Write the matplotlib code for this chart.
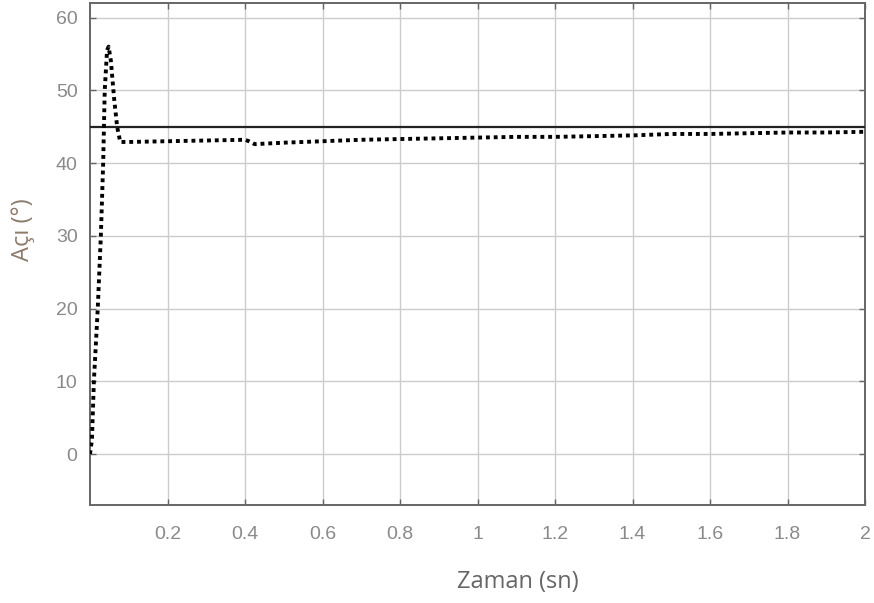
import numpy as np
import matplotlib
matplotlib.use('Agg')
import matplotlib.pyplot as plt

# Zaman (sn) ve açı (derece) değerleri
zaman = [0.0, 0.005, 0.01, 0.02, 0.028, 0.034, 0.038, 0.044, 0.048, 0.054,
         0.062, 0.07, 0.078, 0.1, 0.2, 0.3, 0.4, 0.41, 0.425, 0.5, 0.6,
         0.7, 0.8, 0.9, 1.0, 1.1, 1.2, 1.3, 1.4, 1.5, 1.6, 1.7, 1.8,
         1.9, 2.0]
aci = [0.0, 2.0, 10.0, 20.0, 30.0, 40.0, 50.0, 55.5, 56.0, 54.0,
       49.0, 45.0, 42.9, 42.9, 43.0, 43.1, 43.2, 43.0, 42.6, 42.8, 43.0,
       43.2, 43.3, 43.4, 43.5, 43.6, 43.6, 43.7, 43.8, 44.0, 44.0, 44.1, 44.2,
       44.2, 44.3]
referans = 45

x_ticks = [0.2, 0.4, 0.6, 0.8, 1, 1.2, 1.4, 1.6, 1.8, 2]
x_labels = ['0.2', '0.4', '0.6', '0.8', '1', '1.2', '1.4', '1.6', '1.8', '2']
y_ticks = [0, 10, 20, 30, 40, 50, 60]

fig = plt.figure(figsize=(8.74, 6.03), dpi=100)
ax = fig.add_axes([90 / 874, 1 - 505 / 603, 775 / 874, 502 / 603])

ax.axhline(referans, color='#222222', lw=1.6, zorder=3)
ax.plot(zaman, aci, color='black', lw=2.8, dashes=(1, 1.0), zorder=4)

ax.set_xlim(0, 2)
ax.set_ylim(-7, 62)
ax.set_xticks(x_ticks)
ax.set_xticklabels(x_labels)
ax.set_yticks(y_ticks)

ax.grid(True, color='#cccccc', lw=1.0)
ax.tick_params(direction='in', length=4, width=1, color='#666666',
               labelcolor='#8a8a8a', labelsize=14, top=True, right=True,
               pad=9)
for lab in ax.get_xticklabels() + ax.get_yticklabels():
    lab.set_family(['Liberation Sans', 'DejaVu Sans'])
ax.tick_params(axis='x', pad=15)
for s in ax.spines.values():
    s.set_color('#666666')
    s.set_linewidth(1.4)

fig.text(518 / 874, 1 - 582 / 603, 'Zaman (sn)', ha='center', va='center',
         fontsize=17, color='#666666', family=['Open Sans', 'DejaVu Sans'])
fig.text(23 / 874, 1 - 230 / 603, 'Açı (°)', ha='center', va='center',
         rotation=90, fontsize=17, color='#8c7b6b',
         family=['Open Sans', 'DejaVu Sans'])

fig.savefig('out.png', dpi=100)
